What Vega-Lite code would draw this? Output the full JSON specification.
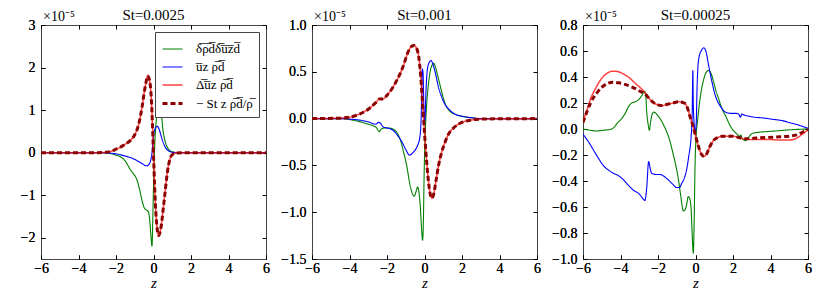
{
  "$schema": "https://vega.github.io/schema/vega-lite/v6.json",
  "padding": {"left": 19, "top": 7, "right": 5, "bottom": 2},
  "background": "white",
  "spacing": 10,
  "datasets": {
    "p1": [
      {"s":"g","z":-6,"v":0},{"s":"g","z":-3,"v":0},{"s":"g","z":-2.5,"v":-0.01},{"s":"g","z":-2.2,"v":-0.03},{"s":"g","z":-2.0,"v":-0.06},{"s":"g","z":-1.8,"v":-0.09},{"s":"g","z":-1.5,"v":-0.2},{"s":"g","z":-1.25,"v":-0.39},{"s":"g","z":-1.1,"v":-0.48},{"s":"g","z":-0.9,"v":-0.62},{"s":"g","z":-0.75,"v":-0.85},{"s":"g","z":-0.63,"v":-1.09},{"s":"g","z":-0.5,"v":-1.29},{"s":"g","z":-0.38,"v":-1.35},{"s":"g","z":-0.28,"v":-1.38},{"s":"g","z":-0.19,"v":-1.64},{"s":"g","z":-0.13,"v":-2.0},{"s":"g","z":-0.08,"v":-2.2},{"s":"g","z":-0.04,"v":-1.6},{"s":"g","z":0.0,"v":-0.8},{"s":"g","z":0.05,"v":0.0},{"s":"g","z":0.12,"v":0.6},{"s":"g","z":0.2,"v":0.95},{"s":"g","z":0.3,"v":1.15},{"s":"g","z":0.4,"v":1.0},{"s":"g","z":0.5,"v":0.55},{"s":"g","z":0.6,"v":0.3},{"s":"g","z":0.7,"v":0.16},{"s":"g","z":0.85,"v":0.06},{"s":"g","z":1.0,"v":0.02},{"s":"g","z":1.3,"v":0},{"s":"g","z":6,"v":0},
      {"s":"b","z":-6,"v":0},{"s":"b","z":-3,"v":0},{"s":"b","z":-2.5,"v":-0.005},{"s":"b","z":-2.0,"v":-0.03},{"s":"b","z":-1.5,"v":-0.08},{"s":"b","z":-1.2,"v":-0.12},{"s":"b","z":-1.0,"v":-0.16},{"s":"b","z":-0.8,"v":-0.21},{"s":"b","z":-0.6,"v":-0.26},{"s":"b","z":-0.45,"v":-0.3},{"s":"b","z":-0.35,"v":-0.31},{"s":"b","z":-0.25,"v":-0.28},{"s":"b","z":-0.15,"v":-0.18},{"s":"b","z":-0.08,"v":0.0},{"s":"b","z":-0.03,"v":0.25},{"s":"b","z":0.02,"v":0.45},{"s":"b","z":0.1,"v":0.57},{"s":"b","z":0.2,"v":0.62},{"s":"b","z":0.3,"v":0.55},{"s":"b","z":0.4,"v":0.4},{"s":"b","z":0.5,"v":0.26},{"s":"b","z":0.6,"v":0.15},{"s":"b","z":0.75,"v":0.06},{"s":"b","z":0.9,"v":0.02},{"s":"b","z":1.1,"v":0.005},{"s":"b","z":1.3,"v":0},{"s":"b","z":6,"v":0},
      {"s":"r","z":-6,"v":0},{"s":"r","z":-3,"v":0},{"s":"r","z":-2.5,"v":0.01},{"s":"r","z":-2.2,"v":0.04},{"s":"r","z":-2.0,"v":0.08},{"s":"r","z":-1.8,"v":0.12},{"s":"r","z":-1.5,"v":0.2},{"s":"r","z":-1.2,"v":0.3},{"s":"r","z":-1.0,"v":0.42},{"s":"r","z":-0.8,"v":0.65},{"s":"r","z":-0.6,"v":1.1},{"s":"r","z":-0.5,"v":1.4},{"s":"r","z":-0.4,"v":1.65},{"s":"r","z":-0.32,"v":1.8},{"s":"r","z":-0.22,"v":1.72},{"s":"r","z":-0.12,"v":1.3},{"s":"r","z":-0.05,"v":0.6},{"s":"r","z":0.02,"v":-0.3},{"s":"r","z":0.1,"v":-1.2},{"s":"r","z":0.2,"v":-1.8},{"s":"r","z":0.28,"v":-1.95},{"s":"r","z":0.36,"v":-1.85},{"s":"r","z":0.45,"v":-1.6},{"s":"r","z":0.5,"v":-1.4},{"s":"r","z":0.6,"v":-1.0},{"s":"r","z":0.7,"v":-0.6},{"s":"r","z":0.8,"v":-0.3},{"s":"r","z":0.9,"v":-0.12},{"s":"r","z":1.0,"v":-0.05},{"s":"r","z":1.2,"v":-0.01},{"s":"r","z":1.5,"v":0},{"s":"r","z":6,"v":0},
      {"s":"d","z":-6,"v":0},{"s":"d","z":-3,"v":0},{"s":"d","z":-2.5,"v":0.01},{"s":"d","z":-2.2,"v":0.04},{"s":"d","z":-2.0,"v":0.08},{"s":"d","z":-1.8,"v":0.12},{"s":"d","z":-1.5,"v":0.2},{"s":"d","z":-1.2,"v":0.3},{"s":"d","z":-1.0,"v":0.42},{"s":"d","z":-0.8,"v":0.65},{"s":"d","z":-0.6,"v":1.1},{"s":"d","z":-0.5,"v":1.4},{"s":"d","z":-0.4,"v":1.65},{"s":"d","z":-0.32,"v":1.8},{"s":"d","z":-0.22,"v":1.72},{"s":"d","z":-0.12,"v":1.3},{"s":"d","z":-0.05,"v":0.6},{"s":"d","z":0.02,"v":-0.3},{"s":"d","z":0.1,"v":-1.2},{"s":"d","z":0.2,"v":-1.8},{"s":"d","z":0.28,"v":-1.95},{"s":"d","z":0.36,"v":-1.85},{"s":"d","z":0.45,"v":-1.6},{"s":"d","z":0.5,"v":-1.4},{"s":"d","z":0.6,"v":-1.0},{"s":"d","z":0.7,"v":-0.6},{"s":"d","z":0.8,"v":-0.3},{"s":"d","z":0.9,"v":-0.12},{"s":"d","z":1.0,"v":-0.05},{"s":"d","z":1.2,"v":-0.01},{"s":"d","z":1.5,"v":0},{"s":"d","z":6,"v":0}
    ],
    "p2": [
      {"s":"g","z":-6,"v":0},{"s":"g","z":-4.5,"v":0},{"s":"g","z":-4,"v":-0.01},{"s":"g","z":-3.5,"v":-0.03},{"s":"g","z":-3,"v":-0.06},{"s":"g","z":-2.7,"v":-0.08},{"s":"g","z":-2.55,"v":-0.1},{"s":"g","z":-2.42,"v":-0.14},{"s":"g","z":-2.3,"v":-0.11},{"s":"g","z":-2.1,"v":-0.1},{"s":"g","z":-1.9,"v":-0.1},{"s":"g","z":-1.7,"v":-0.11},{"s":"g","z":-1.5,"v":-0.14},{"s":"g","z":-1.3,"v":-0.22},{"s":"g","z":-1.1,"v":-0.37},{"s":"g","z":-0.95,"v":-0.5},{"s":"g","z":-0.8,"v":-0.68},{"s":"g","z":-0.65,"v":-0.8},{"s":"g","z":-0.55,"v":-0.83},{"s":"g","z":-0.45,"v":-0.78},{"s":"g","z":-0.37,"v":-0.73},{"s":"g","z":-0.3,"v":-0.78},{"s":"g","z":-0.22,"v":-0.95},{"s":"g","z":-0.15,"v":-1.2},{"s":"g","z":-0.1,"v":-1.3},{"s":"g","z":-0.06,"v":-1.1},{"s":"g","z":-0.02,"v":-0.6},{"s":"g","z":0.03,"v":-0.2},{"s":"g","z":0.1,"v":0.1},{"s":"g","z":0.2,"v":0.35},{"s":"g","z":0.3,"v":0.5},{"s":"g","z":0.4,"v":0.57},{"s":"g","z":0.5,"v":0.59},{"s":"g","z":0.6,"v":0.54},{"s":"g","z":0.7,"v":0.46},{"s":"g","z":0.8,"v":0.38},{"s":"g","z":0.95,"v":0.26},{"s":"g","z":1.1,"v":0.16},{"s":"g","z":1.3,"v":0.09},{"s":"g","z":1.6,"v":0.05},{"s":"g","z":2.0,"v":0.025},{"s":"g","z":2.5,"v":0.01},{"s":"g","z":3,"v":0},{"s":"g","z":6,"v":0},
      {"s":"b","z":-6,"v":0},{"s":"b","z":-4.5,"v":0},{"s":"b","z":-4,"v":-0.005},{"s":"b","z":-3.5,"v":-0.015},{"s":"b","z":-3,"v":-0.035},{"s":"b","z":-2.6,"v":-0.06},{"s":"b","z":-2.45,"v":-0.04},{"s":"b","z":-2.35,"v":-0.05},{"s":"b","z":-2.2,"v":-0.09},{"s":"b","z":-2.0,"v":-0.1},{"s":"b","z":-1.8,"v":-0.11},{"s":"b","z":-1.6,"v":-0.14},{"s":"b","z":-1.4,"v":-0.19},{"s":"b","z":-1.2,"v":-0.25},{"s":"b","z":-1.0,"v":-0.33},{"s":"b","z":-0.8,"v":-0.39},{"s":"b","z":-0.6,"v":-0.36},{"s":"b","z":-0.4,"v":-0.3},{"s":"b","z":-0.25,"v":-0.2},{"s":"b","z":-0.18,"v":0.0},{"s":"b","z":-0.12,"v":0.53},{"s":"b","z":-0.08,"v":0.5},{"s":"b","z":-0.03,"v":0.1},{"s":"b","z":0.02,"v":-0.02},{"s":"b","z":0.08,"v":0.3},{"s":"b","z":0.15,"v":0.52},{"s":"b","z":0.25,"v":0.6},{"s":"b","z":0.35,"v":0.62},{"s":"b","z":0.45,"v":0.58},{"s":"b","z":0.6,"v":0.47},{"s":"b","z":0.75,"v":0.33},{"s":"b","z":0.9,"v":0.24},{"s":"b","z":1.1,"v":0.15},{"s":"b","z":1.3,"v":0.1},{"s":"b","z":1.6,"v":0.05},{"s":"b","z":2.0,"v":0.025},{"s":"b","z":2.5,"v":0.01},{"s":"b","z":3,"v":0},{"s":"b","z":6,"v":0},
      {"s":"r","z":-6,"v":0},{"s":"r","z":-4.5,"v":0.005},{"s":"r","z":-4,"v":0.015},{"s":"r","z":-3.5,"v":0.045},{"s":"r","z":-3,"v":0.1},{"s":"r","z":-2.6,"v":0.17},{"s":"r","z":-2.4,"v":0.21},{"s":"r","z":-2.2,"v":0.21},{"s":"r","z":-2.0,"v":0.25},{"s":"r","z":-1.7,"v":0.33},{"s":"r","z":-1.5,"v":0.4},{"s":"r","z":-1.3,"v":0.48},{"s":"r","z":-1.1,"v":0.58},{"s":"r","z":-0.9,"v":0.7},{"s":"r","z":-0.7,"v":0.77},{"s":"r","z":-0.55,"v":0.78},{"s":"r","z":-0.4,"v":0.74},{"s":"r","z":-0.3,"v":0.65},{"s":"r","z":-0.2,"v":0.45},{"s":"r","z":-0.1,"v":0.15},{"s":"r","z":0.0,"v":-0.15},{"s":"r","z":0.1,"v":-0.42},{"s":"r","z":0.2,"v":-0.65},{"s":"r","z":0.3,"v":-0.8},{"s":"r","z":0.4,"v":-0.85},{"s":"r","z":0.5,"v":-0.8},{"s":"r","z":0.6,"v":-0.68},{"s":"r","z":0.75,"v":-0.5},{"s":"r","z":0.9,"v":-0.37},{"s":"r","z":1.1,"v":-0.25},{"s":"r","z":1.3,"v":-0.16},{"s":"r","z":1.6,"v":-0.09},{"s":"r","z":2.0,"v":-0.04},{"s":"r","z":2.5,"v":-0.015},{"s":"r","z":3,"v":-0.005},{"s":"r","z":6,"v":0},
      {"s":"d","z":-6,"v":0},{"s":"d","z":-4.5,"v":0.005},{"s":"d","z":-4,"v":0.015},{"s":"d","z":-3.5,"v":0.045},{"s":"d","z":-3,"v":0.1},{"s":"d","z":-2.6,"v":0.17},{"s":"d","z":-2.4,"v":0.21},{"s":"d","z":-2.2,"v":0.21},{"s":"d","z":-2.0,"v":0.25},{"s":"d","z":-1.7,"v":0.33},{"s":"d","z":-1.5,"v":0.4},{"s":"d","z":-1.3,"v":0.48},{"s":"d","z":-1.1,"v":0.58},{"s":"d","z":-0.9,"v":0.7},{"s":"d","z":-0.7,"v":0.77},{"s":"d","z":-0.55,"v":0.78},{"s":"d","z":-0.4,"v":0.74},{"s":"d","z":-0.3,"v":0.65},{"s":"d","z":-0.2,"v":0.45},{"s":"d","z":-0.1,"v":0.15},{"s":"d","z":0.0,"v":-0.15},{"s":"d","z":0.1,"v":-0.42},{"s":"d","z":0.2,"v":-0.65},{"s":"d","z":0.3,"v":-0.8},{"s":"d","z":0.4,"v":-0.85},{"s":"d","z":0.5,"v":-0.8},{"s":"d","z":0.6,"v":-0.68},{"s":"d","z":0.75,"v":-0.5},{"s":"d","z":0.9,"v":-0.37},{"s":"d","z":1.1,"v":-0.25},{"s":"d","z":1.3,"v":-0.16},{"s":"d","z":1.6,"v":-0.09},{"s":"d","z":2.0,"v":-0.04},{"s":"d","z":2.5,"v":-0.015},{"s":"d","z":3,"v":-0.005},{"s":"d","z":6,"v":0}
    ],
    "p3": [
      {"s":"g","z":-6,"v":0.0},{"s":"g","z":-5.6,"v":-0.01},{"s":"g","z":-5.27,"v":-0.015},{"s":"g","z":-4.9,"v":-0.01},{"s":"g","z":-4.47,"v":0.0},{"s":"g","z":-4.3,"v":0.02},{"s":"g","z":-4.2,"v":0.04},{"s":"g","z":-3.94,"v":0.08},{"s":"g","z":-3.75,"v":0.12},{"s":"g","z":-3.58,"v":0.17},{"s":"g","z":-3.4,"v":0.2},{"s":"g","z":-3.2,"v":0.21},{"s":"g","z":-3.0,"v":0.23},{"s":"g","z":-2.85,"v":0.26},{"s":"g","z":-2.72,"v":0.29},{"s":"g","z":-2.66,"v":0.27},{"s":"g","z":-2.6,"v":0.13},{"s":"g","z":-2.52,"v":0.03},{"s":"g","z":-2.46,"v":-0.01},{"s":"g","z":-2.4,"v":0.05},{"s":"g","z":-2.32,"v":0.11},{"s":"g","z":-2.22,"v":0.13},{"s":"g","z":-2.05,"v":0.11},{"s":"g","z":-1.89,"v":0.08},{"s":"g","z":-1.7,"v":0.03},{"s":"g","z":-1.54,"v":-0.02},{"s":"g","z":-1.35,"v":-0.1},{"s":"g","z":-1.18,"v":-0.2},{"s":"g","z":-1.05,"v":-0.28},{"s":"g","z":-0.92,"v":-0.38},{"s":"g","z":-0.8,"v":-0.5},{"s":"g","z":-0.65,"v":-0.63},{"s":"g","z":-0.55,"v":-0.62},{"s":"g","z":-0.47,"v":-0.58},{"s":"g","z":-0.39,"v":-0.52},{"s":"g","z":-0.32,"v":-0.53},{"s":"g","z":-0.24,"v":-0.6},{"s":"g","z":-0.18,"v":-0.8},{"s":"g","z":-0.12,"v":-0.955},{"s":"g","z":-0.07,"v":-0.7},{"s":"g","z":-0.03,"v":-0.32},{"s":"g","z":0.03,"v":-0.06},{"s":"g","z":0.1,"v":0.05},{"s":"g","z":0.24,"v":0.23},{"s":"g","z":0.4,"v":0.36},{"s":"g","z":0.55,"v":0.43},{"s":"g","z":0.7,"v":0.45},{"s":"g","z":0.85,"v":0.42},{"s":"g","z":0.97,"v":0.36},{"s":"g","z":1.1,"v":0.29},{"s":"g","z":1.24,"v":0.23},{"s":"g","z":1.4,"v":0.16},{"s":"g","z":1.59,"v":0.105},{"s":"g","z":1.8,"v":0.04},{"s":"g","z":1.95,"v":0.0},{"s":"g","z":2.15,"v":-0.03},{"s":"g","z":2.3,"v":-0.05},{"s":"g","z":2.38,"v":-0.06},{"s":"g","z":2.42,"v":-0.045},{"s":"g","z":2.48,"v":-0.07},{"s":"g","z":2.66,"v":-0.09},{"s":"g","z":2.8,"v":-0.07},{"s":"g","z":3.01,"v":-0.035},{"s":"g","z":3.2,"v":-0.028},{"s":"g","z":3.37,"v":-0.025},{"s":"g","z":3.8,"v":-0.02},{"s":"g","z":4.26,"v":-0.015},{"s":"g","z":5.15,"v":-0.005},{"s":"g","z":6,"v":0.0},
      {"s":"b","z":-6,"v":-0.04},{"s":"b","z":-5.7,"v":-0.1},{"s":"b","z":-5.45,"v":-0.16},{"s":"b","z":-5.2,"v":-0.22},{"s":"b","z":-4.92,"v":-0.28},{"s":"b","z":-4.6,"v":-0.32},{"s":"b","z":-4.38,"v":-0.34},{"s":"b","z":-4.1,"v":-0.36},{"s":"b","z":-3.85,"v":-0.39},{"s":"b","z":-3.6,"v":-0.43},{"s":"b","z":-3.32,"v":-0.47},{"s":"b","z":-3.0,"v":-0.5},{"s":"b","z":-2.78,"v":-0.54},{"s":"b","z":-2.7,"v":-0.55},{"s":"b","z":-2.6,"v":-0.45},{"s":"b","z":-2.5,"v":-0.25},{"s":"b","z":-2.42,"v":-0.3},{"s":"b","z":-2.34,"v":-0.34},{"s":"b","z":-2.1,"v":-0.35},{"s":"b","z":-1.89,"v":-0.35},{"s":"b","z":-1.54,"v":-0.38},{"s":"b","z":-1.25,"v":-0.42},{"s":"b","z":-1.0,"v":-0.45},{"s":"b","z":-0.85,"v":-0.45},{"s":"b","z":-0.74,"v":-0.42},{"s":"b","z":-0.6,"v":-0.38},{"s":"b","z":-0.47,"v":-0.31},{"s":"b","z":-0.35,"v":-0.2},{"s":"b","z":-0.24,"v":-0.07},{"s":"b","z":-0.18,"v":0.1},{"s":"b","z":-0.14,"v":0.45},{"s":"b","z":-0.12,"v":0.2},{"s":"b","z":-0.06,"v":0.02},{"s":"b","z":-0.01,"v":-0.02},{"s":"b","z":0.04,"v":0.05},{"s":"b","z":0.08,"v":0.3},{"s":"b","z":0.13,"v":0.48},{"s":"b","z":0.2,"v":0.56},{"s":"b","z":0.3,"v":0.6},{"s":"b","z":0.44,"v":0.625},{"s":"b","z":0.55,"v":0.6},{"s":"b","z":0.7,"v":0.49},{"s":"b","z":0.88,"v":0.36},{"s":"b","z":1.05,"v":0.26},{"s":"b","z":1.24,"v":0.195},{"s":"b","z":1.4,"v":0.16},{"s":"b","z":1.59,"v":0.13},{"s":"b","z":1.9,"v":0.12},{"s":"b","z":2.2,"v":0.12},{"s":"b","z":2.32,"v":0.11},{"s":"b","z":2.4,"v":0.09},{"s":"b","z":2.46,"v":0.115},{"s":"b","z":2.55,"v":0.11},{"s":"b","z":2.8,"v":0.1},{"s":"b","z":3.19,"v":0.09},{"s":"b","z":3.6,"v":0.085},{"s":"b","z":4.1,"v":0.075},{"s":"b","z":4.61,"v":0.065},{"s":"b","z":5.0,"v":0.05},{"s":"b","z":5.5,"v":0.03},{"s":"b","z":6,"v":0.005},
      {"s":"r","z":-6,"v":0.06},{"s":"r","z":-5.8,"v":0.14},{"s":"r","z":-5.6,"v":0.23},{"s":"r","z":-5.3,"v":0.32},{"s":"r","z":-5.0,"v":0.39},{"s":"r","z":-4.7,"v":0.43},{"s":"r","z":-4.4,"v":0.445},{"s":"r","z":-4.1,"v":0.44},{"s":"r","z":-3.8,"v":0.42},{"s":"r","z":-3.5,"v":0.39},{"s":"r","z":-3.2,"v":0.35},{"s":"r","z":-2.96,"v":0.32},{"s":"r","z":-2.7,"v":0.28},{"s":"r","z":-2.5,"v":0.24},{"s":"r","z":-2.3,"v":0.21},{"s":"r","z":-2.0,"v":0.185},{"s":"r","z":-1.8,"v":0.18},{"s":"r","z":-1.5,"v":0.19},{"s":"r","z":-1.2,"v":0.2},{"s":"r","z":-0.9,"v":0.21},{"s":"r","z":-0.6,"v":0.2},{"s":"r","z":-0.45,"v":0.17},{"s":"r","z":-0.3,"v":0.1},{"s":"r","z":-0.15,"v":0.03},{"s":"r","z":0.0,"v":-0.05},{"s":"r","z":0.15,"v":-0.13},{"s":"r","z":0.3,"v":-0.19},{"s":"r","z":0.45,"v":-0.21},{"s":"r","z":0.6,"v":-0.19},{"s":"r","z":0.75,"v":-0.14},{"s":"r","z":0.95,"v":-0.09},{"s":"r","z":1.2,"v":-0.065},{"s":"r","z":1.5,"v":-0.055},{"s":"r","z":1.95,"v":-0.055},{"s":"r","z":2.3,"v":-0.065},{"s":"r","z":2.7,"v":-0.08},{"s":"r","z":3.2,"v":-0.08},{"s":"r","z":3.8,"v":-0.08},{"s":"r","z":4.5,"v":-0.085},{"s":"r","z":5.0,"v":-0.085},{"s":"r","z":5.4,"v":-0.07},{"s":"r","z":5.7,"v":-0.04},{"s":"r","z":6,"v":-0.005},
      {"s":"d","z":-6,"v":0.05},{"s":"d","z":-5.8,"v":0.13},{"s":"d","z":-5.6,"v":0.2},{"s":"d","z":-5.3,"v":0.27},{"s":"d","z":-5.0,"v":0.32},{"s":"d","z":-4.7,"v":0.35},{"s":"d","z":-4.4,"v":0.36},{"s":"d","z":-4.1,"v":0.355},{"s":"d","z":-3.8,"v":0.345},{"s":"d","z":-3.5,"v":0.33},{"s":"d","z":-3.2,"v":0.31},{"s":"d","z":-2.96,"v":0.29},{"s":"d","z":-2.7,"v":0.27},{"s":"d","z":-2.5,"v":0.24},{"s":"d","z":-2.3,"v":0.21},{"s":"d","z":-2.0,"v":0.185},{"s":"d","z":-1.8,"v":0.18},{"s":"d","z":-1.5,"v":0.19},{"s":"d","z":-1.2,"v":0.2},{"s":"d","z":-0.9,"v":0.21},{"s":"d","z":-0.6,"v":0.2},{"s":"d","z":-0.45,"v":0.17},{"s":"d","z":-0.3,"v":0.1},{"s":"d","z":-0.15,"v":0.03},{"s":"d","z":0.0,"v":-0.05},{"s":"d","z":0.15,"v":-0.13},{"s":"d","z":0.3,"v":-0.19},{"s":"d","z":0.45,"v":-0.21},{"s":"d","z":0.6,"v":-0.19},{"s":"d","z":0.75,"v":-0.14},{"s":"d","z":0.95,"v":-0.09},{"s":"d","z":1.2,"v":-0.065},{"s":"d","z":1.5,"v":-0.055},{"s":"d","z":1.95,"v":-0.055},{"s":"d","z":2.3,"v":-0.065},{"s":"d","z":2.7,"v":-0.075},{"s":"d","z":3.2,"v":-0.07},{"s":"d","z":3.8,"v":-0.065},{"s":"d","z":4.5,"v":-0.06},{"s":"d","z":5.0,"v":-0.055},{"s":"d","z":5.4,"v":-0.045},{"s":"d","z":5.7,"v":-0.025},{"s":"d","z":6,"v":-0.005}
    ]
  },
  "resolve": {
    "scale": {"color": "independent", "strokeDash": "independent", "strokeWidth": "independent"},
    "legend": {"color": "independent", "strokeDash": "independent", "strokeWidth": "independent"}
  },
  "hconcat": [
    {
      "width": 225, "height": 234,
      "data": {"name": "p1"},
      "title": {"text": "St=0.0025"},
      "resolve": {"axis": {"x": "independent", "y": "independent"}},
      "layer": [
        {
          "mark": {"type": "line", "interpolate": "monotone", "clip": true},
          "encoding": {
            "x": {"field": "z", "type": "quantitative", "scale": {"domain": [-6, 6], "nice": false}, "axis": {"values": [-6,-4,-2,0,2,4,6], "title": "z"}},
            "y": {"field": "v", "type": "quantitative", "scale": {"domain": [-2.5, 3], "nice": false, "zero": false}, "axis": {"values": [-2,-1,0,1,2,3], "format": "d", "title": null}},
            "color": {"field": "s", "type": "nominal", "scale": {"domain": ["g","b","r","d"], "range": ["#008000","#0000ff","rgba(255,0,0,0.75)","#8b0000"]},
              "legend": {"title": null, "orient": "top-right", "offset": 7, "fillColor": "white", "strokeColor": "#444", "padding": 6, "labelFontSize": 13, "labelFont": "Liberation Serif", "symbolSize": 400, "symbolType": "stroke", "labelOffset": 12, "rowPadding": 0,
                "labelExpr": "datum.value == 'g' ? 'δ\u0305ρ\u0305d\u0305δ\u0305u\u0305z\u0305d\u0305' : datum.value == 'b' ? 'u\u0305z ρ\u0305d\u0305' : datum.value == 'r' ? 'Δ\u0305u\u0305z ρ\u0305d\u0305' : '− St z ρ\u0305d\u0305/ρ\u0305'"}},
            "strokeDash": {"field": "s", "type": "nominal", "scale": {"type": "ordinal", "domain": ["g","b","r","d"], "range": [[1,0],[1,0],[1,0],[5,3]]}},
            "strokeWidth": {"field": "s", "type": "nominal", "scale": {"type": "ordinal", "domain": ["g","b","r","d"], "range": [1.1,1.1,1.5,3]}}
          }
        },
        {
          "mark": {"type": "point", "opacity": 0},
          "encoding": {
            "x": {"field": "z", "type": "quantitative", "scale": {"domain": [-6, 6], "nice": false}, "axis": {"orient": "top", "values": [-6,-4,-2,0,2,4,6], "labels": false, "title": null}},
            "y": {"field": "v", "type": "quantitative", "scale": {"domain": [-2.5, 3], "nice": false, "zero": false}, "axis": {"orient": "right", "values": [-2,-1,0,1,2,3], "labels": false, "title": null}}
          }
        },
        {
          "data": {"values": [{}]},
          "mark": {"type": "text", "text": "×10⁻⁵", "align": "left", "baseline": "bottom", "dx": 2, "dy": -1, "fontSize": 14, "font": "Liberation Serif"},
          "encoding": {"x": {"datum": -6}, "y": {"datum": 3}}
        }
      ]
    },
    {
      "width": 225, "height": 234,
      "data": {"name": "p2"},
      "title": {"text": "St=0.001"},
      "resolve": {"axis": {"x": "independent", "y": "independent"}},
      "layer": [
        {
          "mark": {"type": "line", "interpolate": "monotone", "clip": true},
          "encoding": {
            "x": {"field": "z", "type": "quantitative", "scale": {"domain": [-6, 6], "nice": false}, "axis": {"values": [-6,-4,-2,0,2,4,6], "title": "z"}},
            "y": {"field": "v", "type": "quantitative", "scale": {"domain": [-1.5, 1.0], "nice": false, "zero": false}, "axis": {"values": [-1.5,-1,-0.5,0,0.5,1], "format": ".1f", "title": null}},
            "color": {"field": "s", "type": "nominal", "scale": {"domain": ["g","b","r","d"], "range": ["#008000","#0000ff","rgba(255,0,0,0.75)","#8b0000"]}, "legend": null},
            "strokeDash": {"field": "s", "type": "nominal", "scale": {"type": "ordinal", "domain": ["g","b","r","d"], "range": [[1,0],[1,0],[1,0],[5,3]]}, "legend": null},
            "strokeWidth": {"field": "s", "type": "nominal", "scale": {"type": "ordinal", "domain": ["g","b","r","d"], "range": [1.1,1.1,1.5,3]}, "legend": null}
          }
        },
        {
          "mark": {"type": "point", "opacity": 0},
          "encoding": {
            "x": {"field": "z", "type": "quantitative", "scale": {"domain": [-6, 6], "nice": false}, "axis": {"orient": "top", "values": [-6,-4,-2,0,2,4,6], "labels": false, "title": null}},
            "y": {"field": "v", "type": "quantitative", "scale": {"domain": [-1.5, 1.0], "nice": false, "zero": false}, "axis": {"orient": "right", "values": [-1.5,-1,-0.5,0,0.5,1], "labels": false, "title": null}}
          }
        },
        {
          "data": {"values": [{}]},
          "mark": {"type": "text", "text": "×10⁻⁵", "align": "left", "baseline": "bottom", "dx": 2, "dy": -1, "fontSize": 14, "font": "Liberation Serif"},
          "encoding": {"x": {"datum": -6}, "y": {"datum": 1.0}}
        }
      ]
    },
    {
      "width": 225, "height": 234,
      "data": {"name": "p3"},
      "title": {"text": "St=0.00025"},
      "resolve": {"axis": {"x": "independent", "y": "independent"}},
      "layer": [
        {
          "mark": {"type": "line", "interpolate": "monotone", "clip": true},
          "encoding": {
            "x": {"field": "z", "type": "quantitative", "scale": {"domain": [-6, 6], "nice": false}, "axis": {"values": [-6,-4,-2,0,2,4,6], "title": "z"}},
            "y": {"field": "v", "type": "quantitative", "scale": {"domain": [-1.0, 0.8], "nice": false, "zero": false}, "axis": {"values": [-1,-0.8,-0.6,-0.4,-0.2,0,0.2,0.4,0.6,0.8], "format": ".1f", "title": null}},
            "color": {"field": "s", "type": "nominal", "scale": {"domain": ["g","b","r","d"], "range": ["#008000","#0000ff","rgba(255,0,0,0.75)","#8b0000"]}, "legend": null},
            "strokeDash": {"field": "s", "type": "nominal", "scale": {"type": "ordinal", "domain": ["g","b","r","d"], "range": [[1,0],[1,0],[1,0],[5,3]]}, "legend": null},
            "strokeWidth": {"field": "s", "type": "nominal", "scale": {"type": "ordinal", "domain": ["g","b","r","d"], "range": [1.1,1.1,1.5,3]}, "legend": null}
          }
        },
        {
          "mark": {"type": "point", "opacity": 0},
          "encoding": {
            "x": {"field": "z", "type": "quantitative", "scale": {"domain": [-6, 6], "nice": false}, "axis": {"orient": "top", "values": [-6,-4,-2,0,2,4,6], "labels": false, "title": null}},
            "y": {"field": "v", "type": "quantitative", "scale": {"domain": [-1.0, 0.8], "nice": false, "zero": false}, "axis": {"orient": "right", "values": [-1,-0.8,-0.6,-0.4,-0.2,0,0.2,0.4,0.6,0.8], "labels": false, "title": null}}
          }
        },
        {
          "data": {"values": [{}]},
          "mark": {"type": "text", "text": "×10⁻⁵", "align": "left", "baseline": "bottom", "dx": 2, "dy": -1, "fontSize": 14, "font": "Liberation Serif"},
          "encoding": {"x": {"datum": -6}, "y": {"datum": 0.8}}
        }
      ]
    }
  ],
  "config": {
    "font": "Liberation Serif",
    "view": {"stroke": "#444", "strokeWidth": 1},
    "axis": {"grid": false, "domain": false, "tickSize": -4, "tickColor": "#000", "labelFont": "Liberation Serif", "labelFontSize": 14, "labelColor": "#000", "labelPadding": 4, "labelFlush": false, "labelOverlap": false, "titleFont": "Liberation Serif", "titleFontSize": 15, "titleFontWeight": "normal", "titleFontStyle": "italic", "titleColor": "#000", "titlePadding": 0},
    "axisX": {"labelPadding": 6, "titlePadding": 0},
    "axisY": {"labelPadding": 10},
    "title": {"font": "Liberation Serif", "fontSize": 15, "fontWeight": "normal", "color": "#000", "offset": -13},
    "legend": {"labelColor": "#000"}
  }
}
